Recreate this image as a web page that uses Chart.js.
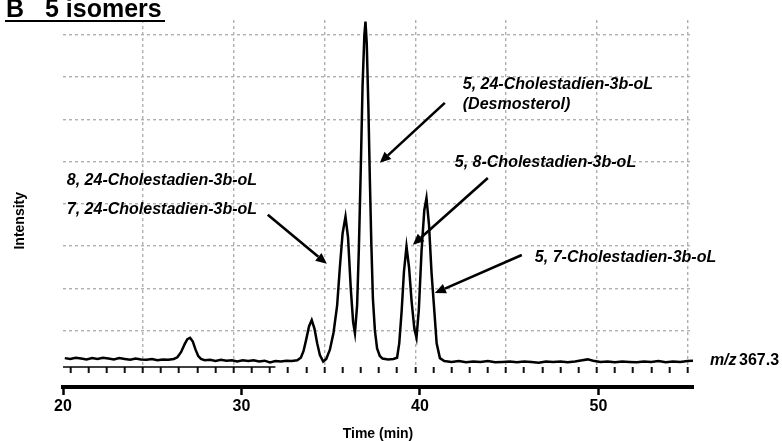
<!DOCTYPE html>
<html>
<head>
<meta charset="utf-8">
<script src="https://cdn.jsdelivr.net/npm/chart.js@4.4.1/dist/chart.umd.min.js"></script>
<style>
  html, body { margin: 0; padding: 0; background: #ffffff; }
  #wrap { position: relative; width: 782px; height: 441px; background: #ffffff; }
</style>
</head>
<body>
<div id="wrap"><canvas id="chart"></canvas></div>
<script>
// ---- data (m/z 367.3) ----
const times = [
  20.7, 21.0, 21.3, 21.6, 21.9, 22.2, 22.5, 22.8, 23.1, 23.4, 23.7, 24.0, 24.3, 24.6, 24.9,
  25.2, 25.5, 25.8, 26.1, 26.4, 26.7, 26.9, 27.1, 27.3, 27.45, 27.6, 27.75, 27.9, 28.05, 28.2,
  28.4, 28.7, 29.0, 29.3, 29.6, 29.9, 30.2, 30.5, 30.8, 31.1, 31.4, 31.7, 32.0, 32.3, 32.6,
  32.9, 33.2, 33.5, 33.7, 33.85, 34.0, 34.15, 34.3, 34.45, 34.6, 34.75, 34.93, 35.1, 35.3,
  35.5, 35.7, 35.85, 36.0, 36.16, 36.3, 36.45, 36.58, 36.68, 36.8, 36.9, 37.0, 37.1, 37.2,
  37.26, 37.33, 37.42, 37.5, 37.58, 37.67, 37.78, 37.9, 38.05, 38.2, 38.5, 38.8, 39.0, 39.12,
  39.25, 39.38, 39.52, 39.66, 39.8, 39.95, 40.07, 40.2, 40.35, 40.5, 40.62, 40.76, 40.9,
  41.03, 41.18, 41.36, 41.6, 42.0, 42.4, 42.8, 43.2, 43.6, 44.0, 44.4, 44.8, 45.2, 45.6,
  46.0, 46.4, 46.8, 47.2, 47.6, 48.0, 48.4, 48.8, 49.2, 49.5, 49.8, 50.2, 50.6, 51.0, 51.4,
  51.8, 52.2, 52.6, 53.0, 53.4, 53.8, 54.2, 54.6, 55.0, 55.3
];
const intensity = [
  0.35, 0.33, 0.36, 0.34, 0.32, 0.35, 0.33, 0.36, 0.34, 0.32, 0.35, 0.33, 0.31, 0.34, 0.32,
  0.31, 0.33, 0.30, 0.32, 0.31, 0.33, 0.37, 0.49, 0.68, 0.80, 0.83, 0.74, 0.55, 0.40, 0.33,
  0.30, 0.31, 0.28, 0.31, 0.29, 0.30, 0.27, 0.30, 0.28, 0.30, 0.27, 0.29, 0.25, 0.28, 0.27,
  0.29, 0.28, 0.30, 0.36, 0.52, 0.80, 1.10, 1.25, 1.05, 0.70, 0.42, 0.27, 0.33, 0.55,
  0.95, 1.60, 2.50, 3.30, 3.70, 3.20, 2.00, 1.20, 0.94, 1.60, 3.00, 4.80, 6.80, 8.00,
  8.31, 7.80, 6.30, 4.60, 3.10, 1.75, 1.00, 0.58, 0.40, 0.34, 0.32, 0.33, 0.36, 0.70,
  1.45, 2.40, 2.99, 2.50, 1.70, 1.05, 0.83, 1.50, 2.90, 3.85, 4.14, 3.50, 2.36,
  1.60, 0.70, 0.35, 0.28, 0.26, 0.28, 0.25, 0.27, 0.26, 0.28, 0.25, 0.26, 0.27, 0.25,
  0.27, 0.26, 0.24, 0.27, 0.26, 0.27, 0.25, 0.27, 0.30, 0.32, 0.29, 0.26, 0.27, 0.25, 0.27,
  0.26, 0.25, 0.27, 0.26, 0.28, 0.25, 0.27, 0.26, 0.28, 0.29
];
const minorTicks = [21,22,23,24,25,26,27,28,29,30,31,32,33,34,35,36,37,38,39,40,41,42,43,44,45,46,47,48,49,50,51,52,53,54,55];
const rulerTicks = [20, 30, 40, 50];
const intensityGrid = [1, 2, 3, 4, 5, 6, 7, 8];

const peakLabels = [
  '8, 24-Cholestadien-3b-oL',
  '7, 24-Cholestadien-3b-oL',
  '5, 24-Cholestadien-3b-oL',
  '(Desmosterol)',
  '5, 8-Cholestadien-3b-oL',
  '5, 7-Cholestadien-3b-oL'
];
const titleLetter = 'B';
const titleText = '5 isomers';
const traceLabelItalic = 'm/z';
const traceLabelMass = ' 367.3';
const xTitle = 'Time (min)';
const yTitle = 'Intensity';

// ---- layout of annotations (in data units: minutes / intensity) ----
const labelPos = [
  {t: 20.81, v: 4.54},
  {t: 20.81, v: 3.86},
  {t: 42.62, v: 6.81},
  {t: 42.62, v: 6.36},
  {t: 42.18, v: 4.97},
  {t: 46.59, v: 2.72}
];
const arrows = [
  {t1: 31.88, v1: 3.74, t2: 35.13, v2: 2.58},
  {t1: 41.63, v1: 6.39, t2: 38.05, v2: 4.97},
  {t1: 44.00, v1: 4.61, t2: 39.87, v2: 3.03},
  {t1: 45.87, v1: 2.79, t2: 41.08, v2: 1.89}
];
const traceLabelPos = {t: 56.23, v: 0.28};
const yTitlePos = {t: 18.23, v: 3.6};
const axisLineEnd = 32.3;

const FONT = '"Liberation Sans", Arial, Helvetica, sans-serif';
const gridColor = '#b0b0b0';

const annotPlugin = {
  id: 'annot',
  afterDraw(chart) {
    const {ctx, chartArea} = chart;
    const x = chart.scales.x, y = chart.scales.y;
    const px = t => x.getPixelForValue(t);
    const py = v => y.getPixelForValue(v);
    ctx.save();
    ctx.fillStyle = '#000';
    ctx.strokeStyle = '#000';

    // thin axis line under the trace (left part only, as in the original)
    ctx.lineWidth = 1.5;
    ctx.beginPath();
    ctx.moveTo(px(x.min), chartArea.bottom);
    ctx.lineTo(px(axisLineEnd), chartArea.bottom);
    ctx.stroke();

    // panel title
    ctx.font = 'bold 25px ' + FONT;
    ctx.textAlign = 'left';
    ctx.textBaseline = 'alphabetic';
    ctx.fillText(titleLetter, 6, 17);
    ctx.fillText(titleText, 45, 17);
    ctx.lineWidth = 2.2;
    ctx.beginPath();
    ctx.moveTo(5, 21);
    ctx.lineTo(165, 21);
    ctx.stroke();

    // peak labels
    ctx.font = 'italic bold 16px ' + FONT;
    ctx.textBaseline = 'middle';
    peakLabels.forEach((txt, i) => {
      ctx.fillText(txt, px(labelPos[i].t), py(labelPos[i].v));
    });

    // arrows
    arrows.forEach(a => {
      const x1 = px(a.t1), y1 = py(a.v1), x2 = px(a.t2), y2 = py(a.v2);
      const ang = Math.atan2(y2 - y1, x2 - x1);
      const headL = 11, headW = 5;
      const bx = x2 - headL * Math.cos(ang), by = y2 - headL * Math.sin(ang);
      ctx.lineWidth = 2.6;
      ctx.beginPath();
      ctx.moveTo(x1, y1);
      ctx.lineTo(bx, by);
      ctx.stroke();
      ctx.beginPath();
      ctx.moveTo(x2, y2);
      ctx.lineTo(bx + headW * Math.sin(ang), by - headW * Math.cos(ang));
      ctx.lineTo(bx - headW * Math.sin(ang), by + headW * Math.cos(ang));
      ctx.closePath();
      ctx.fill();
    });

    // trace label m/z 367.3
    const lx = px(traceLabelPos.t), ly = py(traceLabelPos.v);
    ctx.font = 'italic bold 16px ' + FONT;
    ctx.fillText(traceLabelItalic, lx, ly);
    const w = ctx.measureText(traceLabelItalic).width;
    ctx.font = 'bold 16px ' + FONT;
    ctx.fillText(traceLabelMass, lx + w - 2, ly);

    // y axis title
    ctx.translate(px(yTitlePos.t), py(yTitlePos.v));
    ctx.rotate(-Math.PI / 2);
    ctx.textAlign = 'center';
    ctx.font = 'bold 14px ' + FONT;
    ctx.fillText(yTitle, 0, 0);
    ctx.restore();
  }
};

Chart.defaults.font.family = FONT;
Chart.defaults.color = '#000';

new Chart(document.getElementById('chart'), {
  type: 'line',
  data: {
    datasets: [{
      data: times.map((t, i) => ({x: t, y: intensity[i]})),
      borderColor: '#000',
      borderWidth: 2.5,
      pointRadius: 0,
      tension: 0,
      fill: false
    }]
  },
  options: {
    responsive: true,
    maintainAspectRatio: false,
    animation: false,
    layout: { padding: { left: 63, right: 89, top: 20, bottom: 0 } },
    plugins: { legend: { display: false }, tooltip: { enabled: false } },
    scales: {
      x: {
        type: 'linear',
        position: 'bottom',
        weight: 0,
        min: 20.6,
        max: 55.3,
        afterBuildTicks: s => { s.ticks = minorTicks.map(v => ({value: v})); },
        afterFit: s => { s.height = 20; },
        ticks: { display: false },
        grid: {
          color: c => (c.tick && c.tick.value % 5 === 0) ? gridColor : 'rgba(0,0,0,0)',
          lineWidth: 1.4,
          drawTicks: true,
          tickLength: 6,
          tickWidth: 2,
          tickColor: '#111'
        },
        border: { display: false, dash: [3, 3] }
      },
      x2: {
        type: 'linear',
        position: 'bottom',
        weight: 1,
        min: 20,
        max: 55.3,
        afterBuildTicks: s => { s.ticks = rulerTicks.map(v => ({value: v})); },
        afterFit: s => { s.height = 54; },
        ticks: { font: { size: 16, weight: 'bold' }, color: '#000', padding: 2, maxRotation: 0 },
        grid: {
          drawOnChartArea: false,
          drawTicks: true,
          tickLength: 8,
          tickWidth: 2.5,
          tickColor: '#000',
          color: '#000'
        },
        border: { display: true, width: 4, color: '#000' },
        title: {
          display: true,
          text: xTitle,
          color: '#000',
          font: { size: 14, weight: 'bold', lineHeight: 1 },
          padding: { top: 0, bottom: 0 }
        }
      },
      y: {
        type: 'linear',
        min: 0.14,
        max: 8.35,
        afterBuildTicks: s => { s.ticks = intensityGrid.map(v => ({value: v})); },
        ticks: { display: false },
        grid: { color: gridColor, lineWidth: 1.4, drawTicks: false },
        border: { display: false, dash: [3, 3] }
      }
    }
  },
  plugins: [annotPlugin]
});
</script>
</body>
</html>
